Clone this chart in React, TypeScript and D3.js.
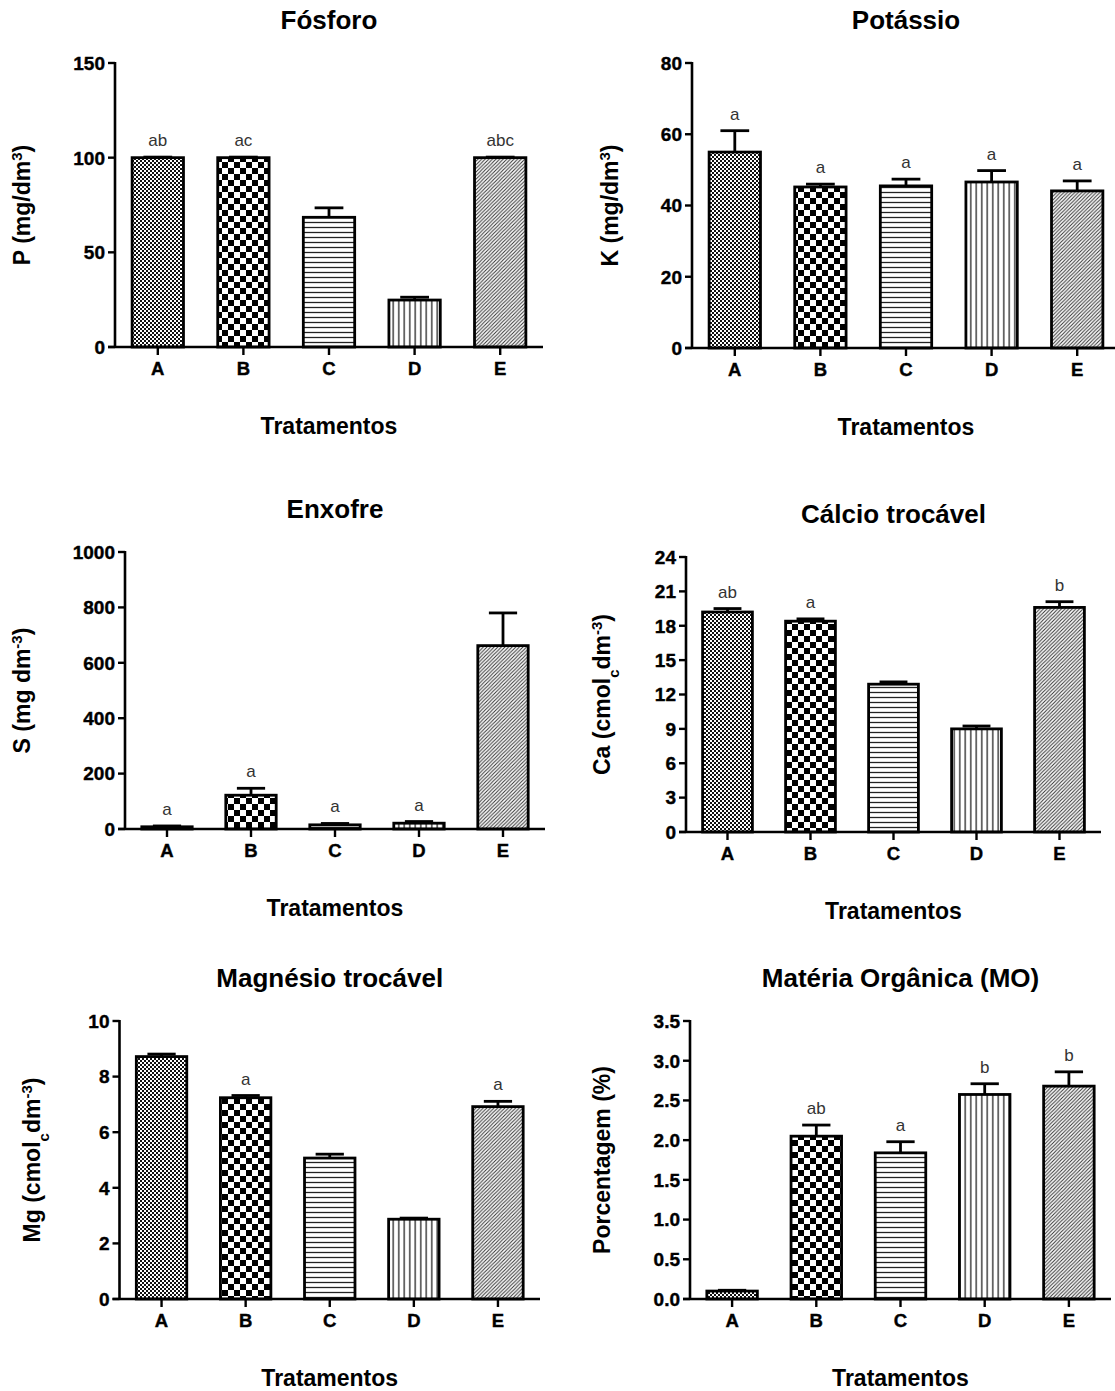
import React from 'react';
import * as d3 from 'd3';

const categories = ['A', 'B', 'C', 'D', 'E'];

// Fósforo (mg/dm3)
const fosforoMean = [100, 100, 68.5, 24.8, 100];
const fosforoErr = [0.3, 0.3, 5, 1.5, 0.3];
const fosforoLetters = ['ab', 'ac', '', '', 'abc'];

// Potássio (mg/dm3)
const potassioMean = [55, 45.2, 45.5, 46.6, 44.1];
const potassioErr = [6, 0.8, 1.9, 3.2, 2.8];
const potassioLetters = ['a', 'a', 'a', 'a', 'a'];

// Enxofre (mg dm-3)
const enxofreMean = [8, 122, 15, 21, 662];
const enxofreErr = [3, 25, 5, 6, 118];
const enxofreLetters = ['a', 'a', 'a', 'a', ''];

// Cálcio trocável
const calcioMean = [19.2, 18.4, 12.9, 9.0, 19.6];
const calcioErr = [0.3, 0.2, 0.2, 0.25, 0.5];
const calcioLetters = ['ab', 'a', '', '', 'b'];

// Magnésio trocável
const magnesioMean = [8.72, 7.24, 5.07, 2.87, 6.92];
const magnesioErr = [0.09, 0.08, 0.14, 0.04, 0.19];
const magnesioLetters = ['', 'a', '', '', 'a'];

// Matéria orgânica (%)
const moMean = [0.1, 2.05, 1.84, 2.575, 2.68];
const moErr = [0.01, 0.14, 0.14, 0.135, 0.18];
const moLetters = ['', 'ab', 'a', 'b', 'b'];

const FONT = '"Liberation Sans", Arial, sans-serif';
const patternIds = ['pFine', 'pCheck', 'pHoriz', 'pVert', 'pDiag'];

const Sup = ({ t }) => <tspan baselineShift="super" fontSize="15">{t}</tspan>;
const Sub = ({ t }) => <tspan baselineShift="sub" fontSize="15">{t}</tspan>;

const Panel = ({ title, yLabel, mean, err, letters, domain, ticks, fmt, layout }) => {
  const { x0, x1, top, zero, labelX } = layout;
  const x = d3.scaleBand().domain(categories).range([x0, x1]).paddingInner(0.4).paddingOuter(0.2);
  const y = d3.scaleLinear().domain(domain).range([zero, top]);
  const bw = x.bandwidth();
  const cap = bw * 0.56;
  const midX = (x0 + x1) / 2;

  return (
    <g>
      {categories.map((c, i) => {
        const bx = x(c);
        const cx = bx + bw / 2;
        const yt = y(mean[i]);
        const ye = y(mean[i] + err[i]);
        return (
          <g key={c}>
            <rect x={bx} y={yt} width={bw} height={zero - yt} fill={`url(#${patternIds[i]})`}
              stroke="#000" strokeWidth={2.8} />
            {err[i] > 0 && (
              <g stroke="#000" strokeWidth={2.8}>
                <line x1={cx} x2={cx} y1={yt} y2={ye} />
                <line x1={cx - cap / 2} x2={cx + cap / 2} y1={ye} y2={ye} />
              </g>
            )}
            {letters[i] && (
              <text x={cx} y={ye - 11} textAnchor="middle" fontSize={17} fill="#333">{letters[i]}</text>
            )}
          </g>
        );
      })}

      {/* y axis */}
      <line x1={x0} x2={x0} y1={top - 1} y2={zero} stroke="#000" strokeWidth={2.6} />
      {ticks.map(t => (
        <g key={t}>
          <line x1={x0 - 7} x2={x0} y1={y(t)} y2={y(t)} stroke="#000" strokeWidth={2.4} />
          <text x={x0 - 10} y={y(t)} dy="0.36em" textAnchor="end" fontSize={19} fontWeight="bold"
            stroke="#000" strokeWidth={0.4}>{fmt(t)}</text>
        </g>
      ))}

      {/* x axis */}
      <line x1={x0 - 7} x2={x1} y1={zero} y2={zero} stroke="#000" strokeWidth={2.6} />
      {categories.map(c => {
        const cx = x(c) + bw / 2;
        return (
          <g key={c}>
            <line x1={cx} x2={cx} y1={zero} y2={zero + 8} stroke="#000" strokeWidth={2.4} />
            <text x={cx} y={zero + 28} textAnchor="middle" fontSize={18.5} fontWeight="bold"
              stroke="#000" strokeWidth={0.4}>{c}</text>
          </g>
        );
      })}

      <text x={midX} y={top - 34} textAnchor="middle" fontSize={26} fontWeight="bold">{title}</text>
      <text x={midX} y={zero + 87} textAnchor="middle" fontSize={23} fontWeight="bold">Tratamentos</text>
      <text transform={`translate(${labelX},${(top + zero) / 2}) rotate(-90)`} dy="0.35em"
        textAnchor="middle" fontSize={23} fontWeight="bold">{yLabel}</text>
    </g>
  );
};

const App = () => {
  const intFmt = d3.format('d');
  const oneDec = d3.format('.1f');
  return (
    <svg width={1115} height={1391} style={{ position: 'absolute', left: 0, top: 0, background: '#fff' }}
      fontFamily={FONT}>
      <defs>
        <pattern id="pFine" width={4} height={4} patternUnits="userSpaceOnUse">
          <rect width={4} height={4} fill="#fff" />
          <rect x={0} y={0} width={2} height={2} fill="#111" />
          <rect x={2} y={2} width={2} height={2} fill="#111" />
        </pattern>
        <pattern id="pCheck" width={12} height={12} patternUnits="userSpaceOnUse">
          <rect width={12} height={12} fill="#fff" />
          <rect x={0} y={0} width={6} height={6} fill="#000" />
          <rect x={6} y={6} width={6} height={6} fill="#000" />
        </pattern>
        <pattern id="pHoriz" width={5} height={5} patternUnits="userSpaceOnUse">
          <rect width={5} height={5} fill="#fff" />
          <line x1={0} x2={5} y1={2.5} y2={2.5} stroke="#222" strokeWidth={1.3} />
        </pattern>
        <pattern id="pVert" width={5.5} height={5} patternUnits="userSpaceOnUse">
          <rect width={5.5} height={5} fill="#fff" />
          <line x1={2.75} x2={2.75} y1={0} y2={5} stroke="#222" strokeWidth={1.3} />
        </pattern>
        <pattern id="pDiag" width={3.6} height={3.6} patternUnits="userSpaceOnUse">
          <rect width={3.6} height={3.6} fill="#fff" />
          <path d="M-1,1 L1,-1 M0,3.6 L3.6,0 M2.6,4.6 L4.6,2.6" stroke="#333" strokeWidth={1} />
        </pattern>
      </defs>

      <Panel title="Fósforo" yLabel={<>P (mg/dm<Sup t="3" />)</>}
        mean={fosforoMean} err={fosforoErr} letters={fosforoLetters}
        domain={[0, 150]} ticks={[0, 50, 100, 150]} fmt={intFmt}
        layout={{ x0: 115, x1: 543, top: 63, zero: 347, labelX: 22 }} />

      <Panel title="Potássio" yLabel={<>K (mg/dm<Sup t="3" />)</>}
        mean={potassioMean} err={potassioErr} letters={potassioLetters}
        domain={[0, 80]} ticks={[0, 20, 40, 60, 80]} fmt={intFmt}
        layout={{ x0: 692, x1: 1120, top: 63, zero: 348, labelX: 610 }} />

      <Panel title="Enxofre" yLabel={<>S (mg dm<Sup t="-3" />)</>}
        mean={enxofreMean} err={enxofreErr} letters={enxofreLetters}
        domain={[0, 1000]} ticks={[0, 200, 400, 600, 800, 1000]} fmt={intFmt}
        layout={{ x0: 125, x1: 545, top: 552, zero: 829, labelX: 22 }} />

      <Panel title="Cálcio trocável" yLabel={<>Ca (cmol<Sub t="c" />dm<Sup t="-3" />)</>}
        mean={calcioMean} err={calcioErr} letters={calcioLetters}
        domain={[0, 24]} ticks={d3.range(0, 25, 3)} fmt={intFmt}
        layout={{ x0: 686, x1: 1101, top: 557, zero: 832, labelX: 602 }} />

      <Panel title="Magnésio trocável" yLabel={<>Mg (cmol<Sub t="c" />dm<Sup t="-3" />)</>}
        mean={magnesioMean} err={magnesioErr} letters={magnesioLetters}
        domain={[0, 10]} ticks={[0, 2, 4, 6, 8, 10]} fmt={intFmt}
        layout={{ x0: 119.5, x1: 540, top: 1021, zero: 1299, labelX: 32 }} />

      <Panel title="Matéria Orgânica (MO)" yLabel="Porcentagem (%)"
        mean={moMean} err={moErr} letters={moLetters}
        domain={[0, 3.5]} ticks={d3.range(0, 3.51, 0.5)} fmt={oneDec}
        layout={{ x0: 690, x1: 1111, top: 1021, zero: 1299, labelX: 602 }} />
    </svg>
  );
};

export default App;
